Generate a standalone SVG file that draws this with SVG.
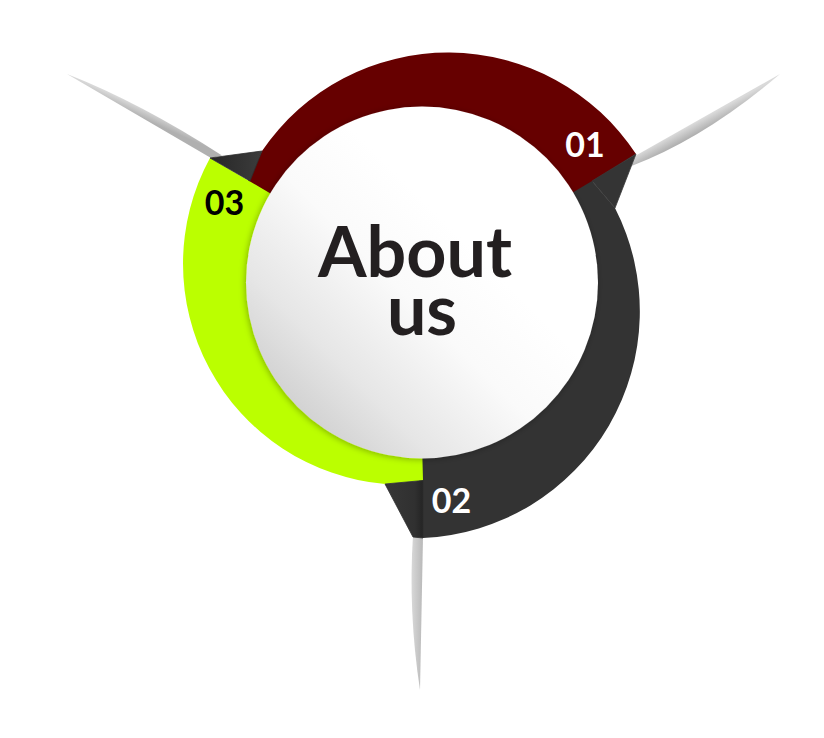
<svg xmlns="http://www.w3.org/2000/svg" width="824" height="738" viewBox="0 0 824 738">
<style>
  .num{font-family:Lato,"Liberation Sans",sans-serif;font-weight:700;font-size:34px;text-anchor:middle}
  .title{font-family:Lato,"Liberation Sans",sans-serif;font-weight:700;font-size:70px;fill:#231f20;text-anchor:middle}
  .flap{stroke-width:0.8;stroke-linejoin:round}
</style>
<defs>
  <linearGradient id="gCircle" x1="0.08" y1="0.92" x2="0.62" y2="0.38">
    <stop offset="0" stop-color="#c8c8c8"/>
    <stop offset="0.35" stop-color="#e6e6e6"/>
    <stop offset="0.7" stop-color="#fafafa"/>
    <stop offset="1" stop-color="#ffffff"/>
  </linearGradient>
  <linearGradient id="gBlade1" gradientUnits="userSpaceOnUse" x1="707" y1="116" x2="713" y2="127">
    <stop offset="0" stop-color="#dadada"/>
    <stop offset="1" stop-color="#a9a9a9"/>
  </linearGradient>
  <linearGradient id="gBlade2" gradientUnits="userSpaceOnUse" x1="423" y1="600" x2="411" y2="600">
    <stop offset="0" stop-color="#b9b9b9"/>
    <stop offset="1" stop-color="#d9d9d9"/>
  </linearGradient>
  <linearGradient id="gBlade3" gradientUnits="userSpaceOnUse" x1="139" y1="117" x2="143" y2="108">
    <stop offset="0" stop-color="#b0b0b0"/>
    <stop offset="1" stop-color="#d8d8d8"/>
  </linearGradient>
  <linearGradient id="gFlap3" gradientUnits="userSpaceOnUse" x1="210" y1="160" x2="262" y2="160">
    <stop offset="0" stop-color="#262626"/>
    <stop offset="1" stop-color="#3c3c3c"/>
  </linearGradient>
  <linearGradient id="gFlap2" gradientUnits="userSpaceOnUse" x1="390" y1="500" x2="423" y2="500">
    <stop offset="0" stop-color="#363636"/>
    <stop offset="0.75" stop-color="#303030"/>
    <stop offset="1" stop-color="#242424"/>
  </linearGradient>
  <filter id="shadow" x="-20%" y="-20%" width="140%" height="140%">
    <feDropShadow dx="-1" dy="1" stdDeviation="3" flood-color="#000" flood-opacity="0.3"/>
  </filter>
</defs>
<rect width="824" height="738" fill="#ffffff"/>

<g id="blades">
  <path id="blade-01" d="M635,156 L780,74 Q705,138 631.5,166 Z" fill="url(#gBlade1)"/>
  <path id="blade-02" d="M423,536 L420,690 Q408,612 413,535 Z" fill="url(#gBlade2)"/>
  <path id="blade-03" d="M211,158 L67,74 Q141,103 222,155.5 Z" fill="url(#gBlade3)"/>
</g>

<g id="segment-01">
  <path d="M284,201.5 L247,183 L262,151 A225,225 0 0 1 636,154 L590,184 L559.4,200.6 A160,160 0 0 0 284,201.5 Z" fill="#660000"/>
</g>
<g id="segment-02">
  <path d="M559.4,200.6 L592,181 L615,208 A227,227 0 0 1 423,538 L423,484 L419,482 L419,442.5 A160,160 0 0 0 559.4,200.6 Z" fill="#333333"/>
</g>
<g id="segment-03">
  <path d="M422,442.5 L423,480.5 L385,484 A221,221 0 0 1 210,158 L284,201.5 A160,160 0 0 0 422,442.5 Z" fill="#bbff00"/>
</g>

<g id="folds">
  <path class="flap" d="M636,154 L592,181 L615,208 Z" fill="#343434" stroke="#383838"/>
  <path class="flap" d="M385,484 L423,480.5 L423,538 L413,537 Z" fill="url(#gFlap2)" stroke="#2e2e2e"/>
  <path class="flap" d="M210,158 L262,151 L250,181 Z" fill="url(#gFlap3)" stroke="#2f2f2f"/>
</g>

<g id="center">
  <circle cx="422" cy="282.5" r="176" fill="url(#gCircle)" filter="url(#shadow)"/>
  <text class="title" x="415" y="277">About</text>
  <text class="title" x="422" y="335">us</text>
</g>

<g id="labels">
  <text class="num" x="585" y="157" fill="#ffffff">01</text>
  <text class="num" x="451.5" y="513" fill="#ffffff">02</text>
  <text class="num" x="224.5" y="215" fill="#000000">03</text>
</g>
</svg>
